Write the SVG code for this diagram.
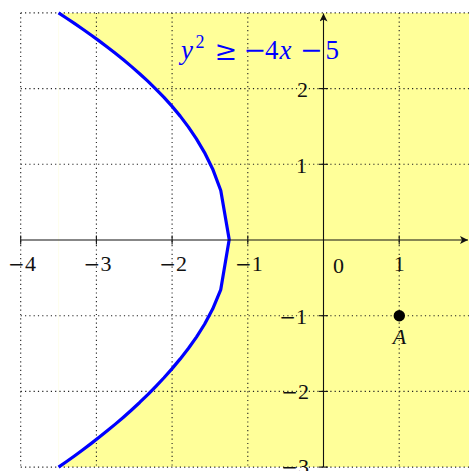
<svg xmlns="http://www.w3.org/2000/svg" width="469" height="471" viewBox="0 0 469 471">
<style>
.grid{stroke:#222;stroke-width:1.1;stroke-dasharray:1.2 3.1;fill:none}
.axis{stroke:#111;stroke-width:1.1;fill:none}
.tick{stroke:#111;stroke-width:1.1}
.lbl{font-family:"Liberation Serif","Times New Roman",serif;font-size:22px;fill:#111}
.mn{font-family:"DejaVu Serif",serif;font-size:20px}
.mid{text-anchor:middle}
.end{text-anchor:end}
.eq{font-family:"Liberation Serif","Times New Roman",serif;font-size:27px;fill:#0000ff}
.op{font-family:"DejaVu Serif",serif;font-size:27px}
.it{font-style:italic}
</style>
<defs>
<marker id="arr" markerWidth="10" markerHeight="8" refX="8" refY="4" orient="auto" markerUnits="userSpaceOnUse">
<path d="M0,0 L8,4 L0,8 L2,4 Z" fill="#111"/>
</marker>
</defs>
<rect width="469" height="471" fill="#fff"/>
<g id="region">
<path d="M58.55,12.9 L66.66,18.22 L74.77,23.68 L82.88,29.24 L91,34.97 L99.11,40.87 L107.22,46.96 L115.33,53.27 L123.44,59.82 L131.55,66.63 L139.66,73.74 L147.77,81.19 L155.88,89.03 L163.99,97.43 L172.1,106.38 L180.21,116.11 L188.32,126.88 L196.43,138.88 L204.54,152.56 L212.65,168.92 L220.77,190.44 L229.2,239.6 L220.77,289.56 L212.65,309.08 L204.54,324.24 L196.43,337.12 L188.32,348.52 L180.21,358.89 L172.1,368.62 L163.99,377.77 L155.88,386.37 L147.77,394.61 L139.66,402.46 L131.55,409.97 L123.44,417.18 L115.33,424.13 L107.22,430.84 L99.11,437.33 L91,443.63 L82.88,449.76 L74.77,455.72 L66.66,461.48 L58.55,467.1 L469,467.1 L469,12.9 Z" fill="#ffff99"/>
<line x1="58.6" y1="12.9" x2="58.6" y2="467.1" stroke="#fefee4" stroke-width="0.7"/>
</g>
<g id="grid">
<line class="grid" x1="20.7" y1="12.9" x2="469" y2="12.9"/>
<line class="grid" x1="20.7" y1="88.6" x2="469" y2="88.6"/>
<line class="grid" x1="20.7" y1="164.3" x2="469" y2="164.3"/>
<line class="grid" x1="20.7" y1="315.7" x2="469" y2="315.7"/>
<line class="grid" x1="20.7" y1="391.4" x2="469" y2="391.4"/>
<line class="grid" x1="20.7" y1="467.1" x2="469" y2="467.1"/>
<line class="grid" x1="20.7" y1="12.9" x2="20.7" y2="467.1"/>
<line class="grid" x1="96.4" y1="12.9" x2="96.4" y2="467.1"/>
<line class="grid" x1="172.1" y1="12.9" x2="172.1" y2="467.1"/>
<line class="grid" x1="247.8" y1="12.9" x2="247.8" y2="467.1"/>
<line class="grid" x1="399.2" y1="12.9" x2="399.2" y2="467.1"/>
</g>
<g id="curve">
<polyline fill="none" stroke="#0000ff" stroke-width="3.2" stroke-linejoin="round" points="58.55,12.9 66.66,18.22 74.77,23.68 82.88,29.24 91,34.97 99.11,40.87 107.22,46.96 115.33,53.27 123.44,59.82 131.55,66.63 139.66,73.74 147.77,81.19 155.88,89.03 163.99,97.43 172.1,106.38 180.21,116.11 188.32,126.88 196.43,138.88 204.54,152.56 212.65,168.92 220.77,190.44 229.2,239.6 220.77,289.56 212.65,309.08 204.54,324.24 196.43,337.12 188.32,348.52 180.21,358.89 172.1,368.62 163.99,377.77 155.88,386.37 147.77,394.61 139.66,402.46 131.55,409.97 123.44,417.18 115.33,424.13 107.22,430.84 99.11,437.33 91,443.63 82.88,449.76 74.77,455.72 66.66,461.48 58.55,467.1"/>
</g>
<g id="axes">
<line class="axis" x1="20.7" y1="240" x2="468" y2="240" marker-end="url(#arr)"/>
<line class="axis" x1="323.5" y1="467.1" x2="323.5" y2="13.5" marker-end="url(#arr)"/>
<line class="tick" x1="20.7" y1="235.5" x2="20.7" y2="244.5"/>
<line class="tick" x1="96.4" y1="235.5" x2="96.4" y2="244.5"/>
<line class="tick" x1="172.1" y1="235.5" x2="172.1" y2="244.5"/>
<line class="tick" x1="247.8" y1="235.5" x2="247.8" y2="244.5"/>
<line class="tick" x1="399.2" y1="235.5" x2="399.2" y2="244.5"/>
<line class="tick" x1="319" y1="88.6" x2="328" y2="88.6"/>
<line class="tick" x1="319" y1="164.3" x2="328" y2="164.3"/>
<line class="tick" x1="319" y1="315.7" x2="328" y2="315.7"/>
<line class="tick" x1="319" y1="391.4" x2="328" y2="391.4"/>
<line class="tick" x1="319" y1="467.1" x2="328" y2="467.1"/>
</g>
<g id="labels">
<text class="lbl mid" x="22" y="271"><tspan class="mn">−</tspan>4</text>
<text class="lbl mid" x="97.5" y="271"><tspan class="mn">−</tspan>3</text>
<text class="lbl mid" x="173.2" y="271"><tspan class="mn">−</tspan>2</text>
<text class="lbl mid" x="248.8" y="271"><tspan class="mn">−</tspan>1</text>
<text class="lbl mid" x="338.5" y="273">0</text>
<text class="lbl mid" x="399.3" y="271">1</text>
<text class="lbl end" x="308" y="97">2</text>
<text class="lbl end" x="307" y="172.5">1</text>
<text class="lbl end" x="307" y="323.5"><tspan class="mn">−</tspan>1</text>
<text class="lbl end" x="309" y="398.5"><tspan class="mn">−</tspan>2</text>
<text class="lbl end" x="309" y="474"><tspan class="mn">−</tspan>3</text>
</g>
<g id="inequality">
<text class="eq"><tspan class="it" x="181" y="59">y</tspan><tspan x="195.5" y="48" font-size="18">2</tspan><tspan class="op" x="214.5" y="60">≥</tspan><tspan class="op" x="243.5" y="59">−</tspan><tspan x="265" y="59">4</tspan><tspan class="it" x="279.5" y="59">x</tspan><tspan class="op" x="300" y="59">−</tspan><tspan x="325.5" y="59">5</tspan></text>
</g>
<g id="pointA">
<circle cx="399.3" cy="315.7" r="5.7" fill="#000"/>
<text class="lbl mid it" x="399.5" y="344" font-size="23">A</text>
</g>
</svg>
